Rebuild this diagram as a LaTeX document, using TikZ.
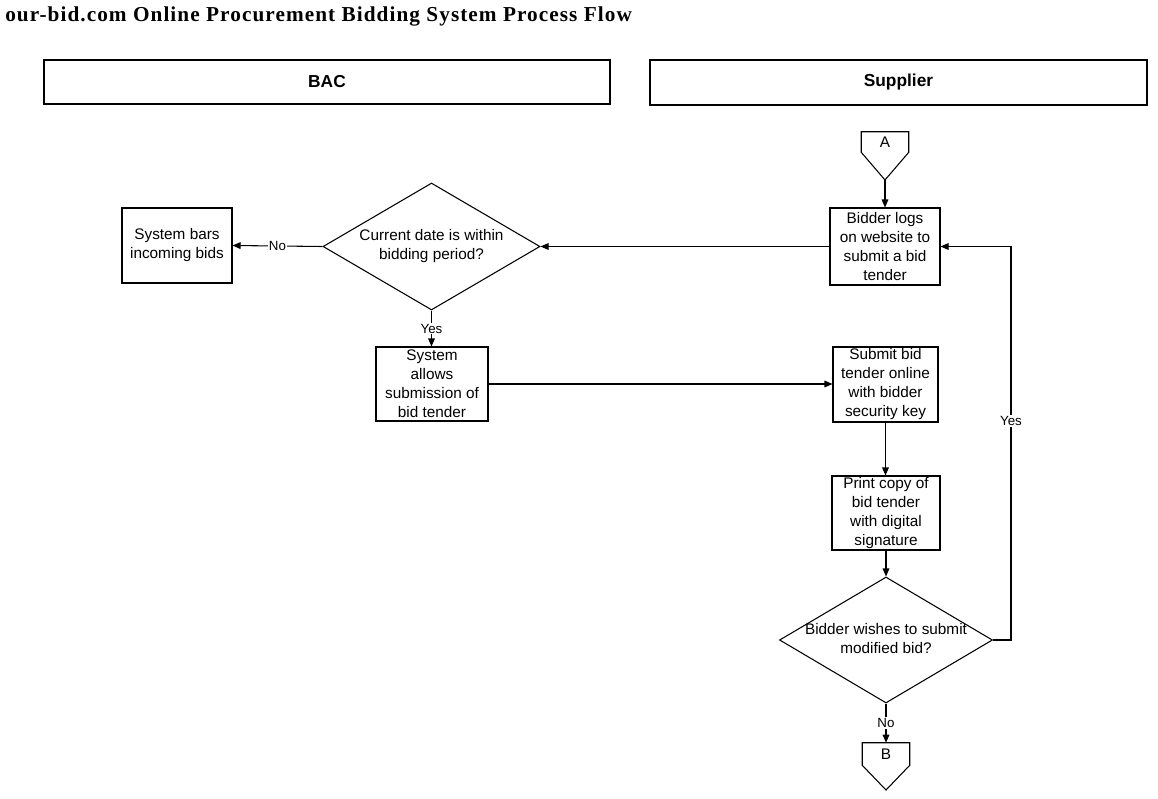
\documentclass[tikz,border=0pt]{standalone}
\usepackage{fontspec}
\setmainfont{Liberation Serif}
\setsansfont{Liberation Sans}
\newfontfamily\titlefont{Liberation Serif}[LetterSpace=5]
\usetikzlibrary{shapes.geometric,arrows.meta,calc}
\tikzset{
  box/.style={draw, line width=0.8pt, font=\sffamily\fontsize{11.5}{14.25}\selectfont, align=center, inner sep=0pt},
  decision/.style={diamond, draw, line width=0.8pt, inner sep=0pt, font=\sffamily\fontsize{11.5}{14.25}\selectfont},
  arr/.style={-{Triangle[length=6pt,width=5pt]}, line width=0.8pt},
  conn/.style={line width=0.8pt},
  lbl/.style={fill=white, inner sep=1pt, font=\sffamily\fontsize{10}{11}\selectfont},
  hdr/.style={draw, line width=1.1pt, font=\sffamily\bfseries\fontsize{13}{15}\selectfont, inner sep=0pt},
  pagecon/.style={inner sep=0pt, font=\sffamily\fontsize{11.5}{14.25}\selectfont, minimum width=35.25pt, minimum height=15pt}
}
\newcommand{\dtext}[1]{\makebox[0pt][c]{\begin{tabular}{@{}c@{}}#1\end{tabular}}}
\begin{document}
\begin{tikzpicture}[x=0.75pt,y=-0.75pt]
\useasboundingbox (0,0) rectangle (1158,799);
% title
\node[anchor=base west, inner sep=0pt] (title) at (5,22) {\resizebox{470pt}{!}{\titlefont\bfseries our-bid.com Online Procurement Bidding System Process Flow}};
% headers
\node[hdr, minimum width=424.5pt, minimum height=33pt] (bac) at (327,82) {BAC};
\node[hdr, minimum width=372.75pt, minimum height=33.75pt] (sup) at (898.5,82.5) {Supplier};
% off-page connector A
\node[pagecon] (A) at (885,142) {A};
\coordinate (Atip) at (885,180);
\draw[conn] (A.north west) -- (A.north east) -- (A.south east) -- (Atip) -- (A.south west) -- cycle;
% boxes
\node[box, minimum width=82.5pt, minimum height=57.75pt] (logs) at (885,246.5) {Bidder logs\\on website to\\submit a bid\\tender};
\node[decision, minimum width=162.75pt, minimum height=95.25pt] (d1) at (431.5,246.5) {\dtext{Current date is within\\bidding period?}};
\node[box, minimum width=82.5pt, minimum height=56.25pt] (bars) at (177,245.5) {System bars\\incoming bids};
\node[box, minimum width=84pt, minimum height=55.5pt] (allow) at (432,384) {System\\allows\\submission of\\bid tender};
\node[box, minimum width=78.75pt, minimum height=56.25pt] (submit) at (885.5,384.5) {Submit bid\\tender online\\with bidder\\security key};
\node[box, minimum width=81pt, minimum height=55.5pt] (print) at (886,513) {Print copy of\\bid tender\\with digital\\signature};
\node[decision, minimum width=159.75pt, minimum height=94.5pt] (d2) at (886,640) {\dtext{Bidder wishes to submit\\modified bid?}};
% off-page connector B
\node[pagecon, minimum height=16.5pt] (B) at (886,754) {B};
\coordinate (Btip) at (886,790);
\draw[conn] (B.north west) -- (B.north east) -- (B.south east) -- (Btip) -- (B.south west) -- cycle;
% connectors
\draw[arr] (Atip) -- (Atip |- logs.north);
\draw[arr] (logs.west) -- (d1.east);
\draw[arr] (d1.west) -- node[lbl]{No} (bars.east);
\draw[arr] (d1.south) -- node[lbl]{Yes} (d1.south |- allow.north);
\draw[arr] (allow.east) -- (submit.west |- allow.east);
\draw[arr] (submit.south) -- (submit.south |- print.north);
\draw[arr] (print.south) -- (print.south |- d2.north);
\draw[arr] (d2.south) -- node[lbl]{No} (d2.south |- B.north);
\coordinate (loopR) at (1011,0);
\draw[arr] (d2.east) -- (loopR |- d2.east) -- node[lbl, pos=0.557]{Yes} (loopR |- logs.east) -- (logs.east);
\end{tikzpicture}
\end{document}
